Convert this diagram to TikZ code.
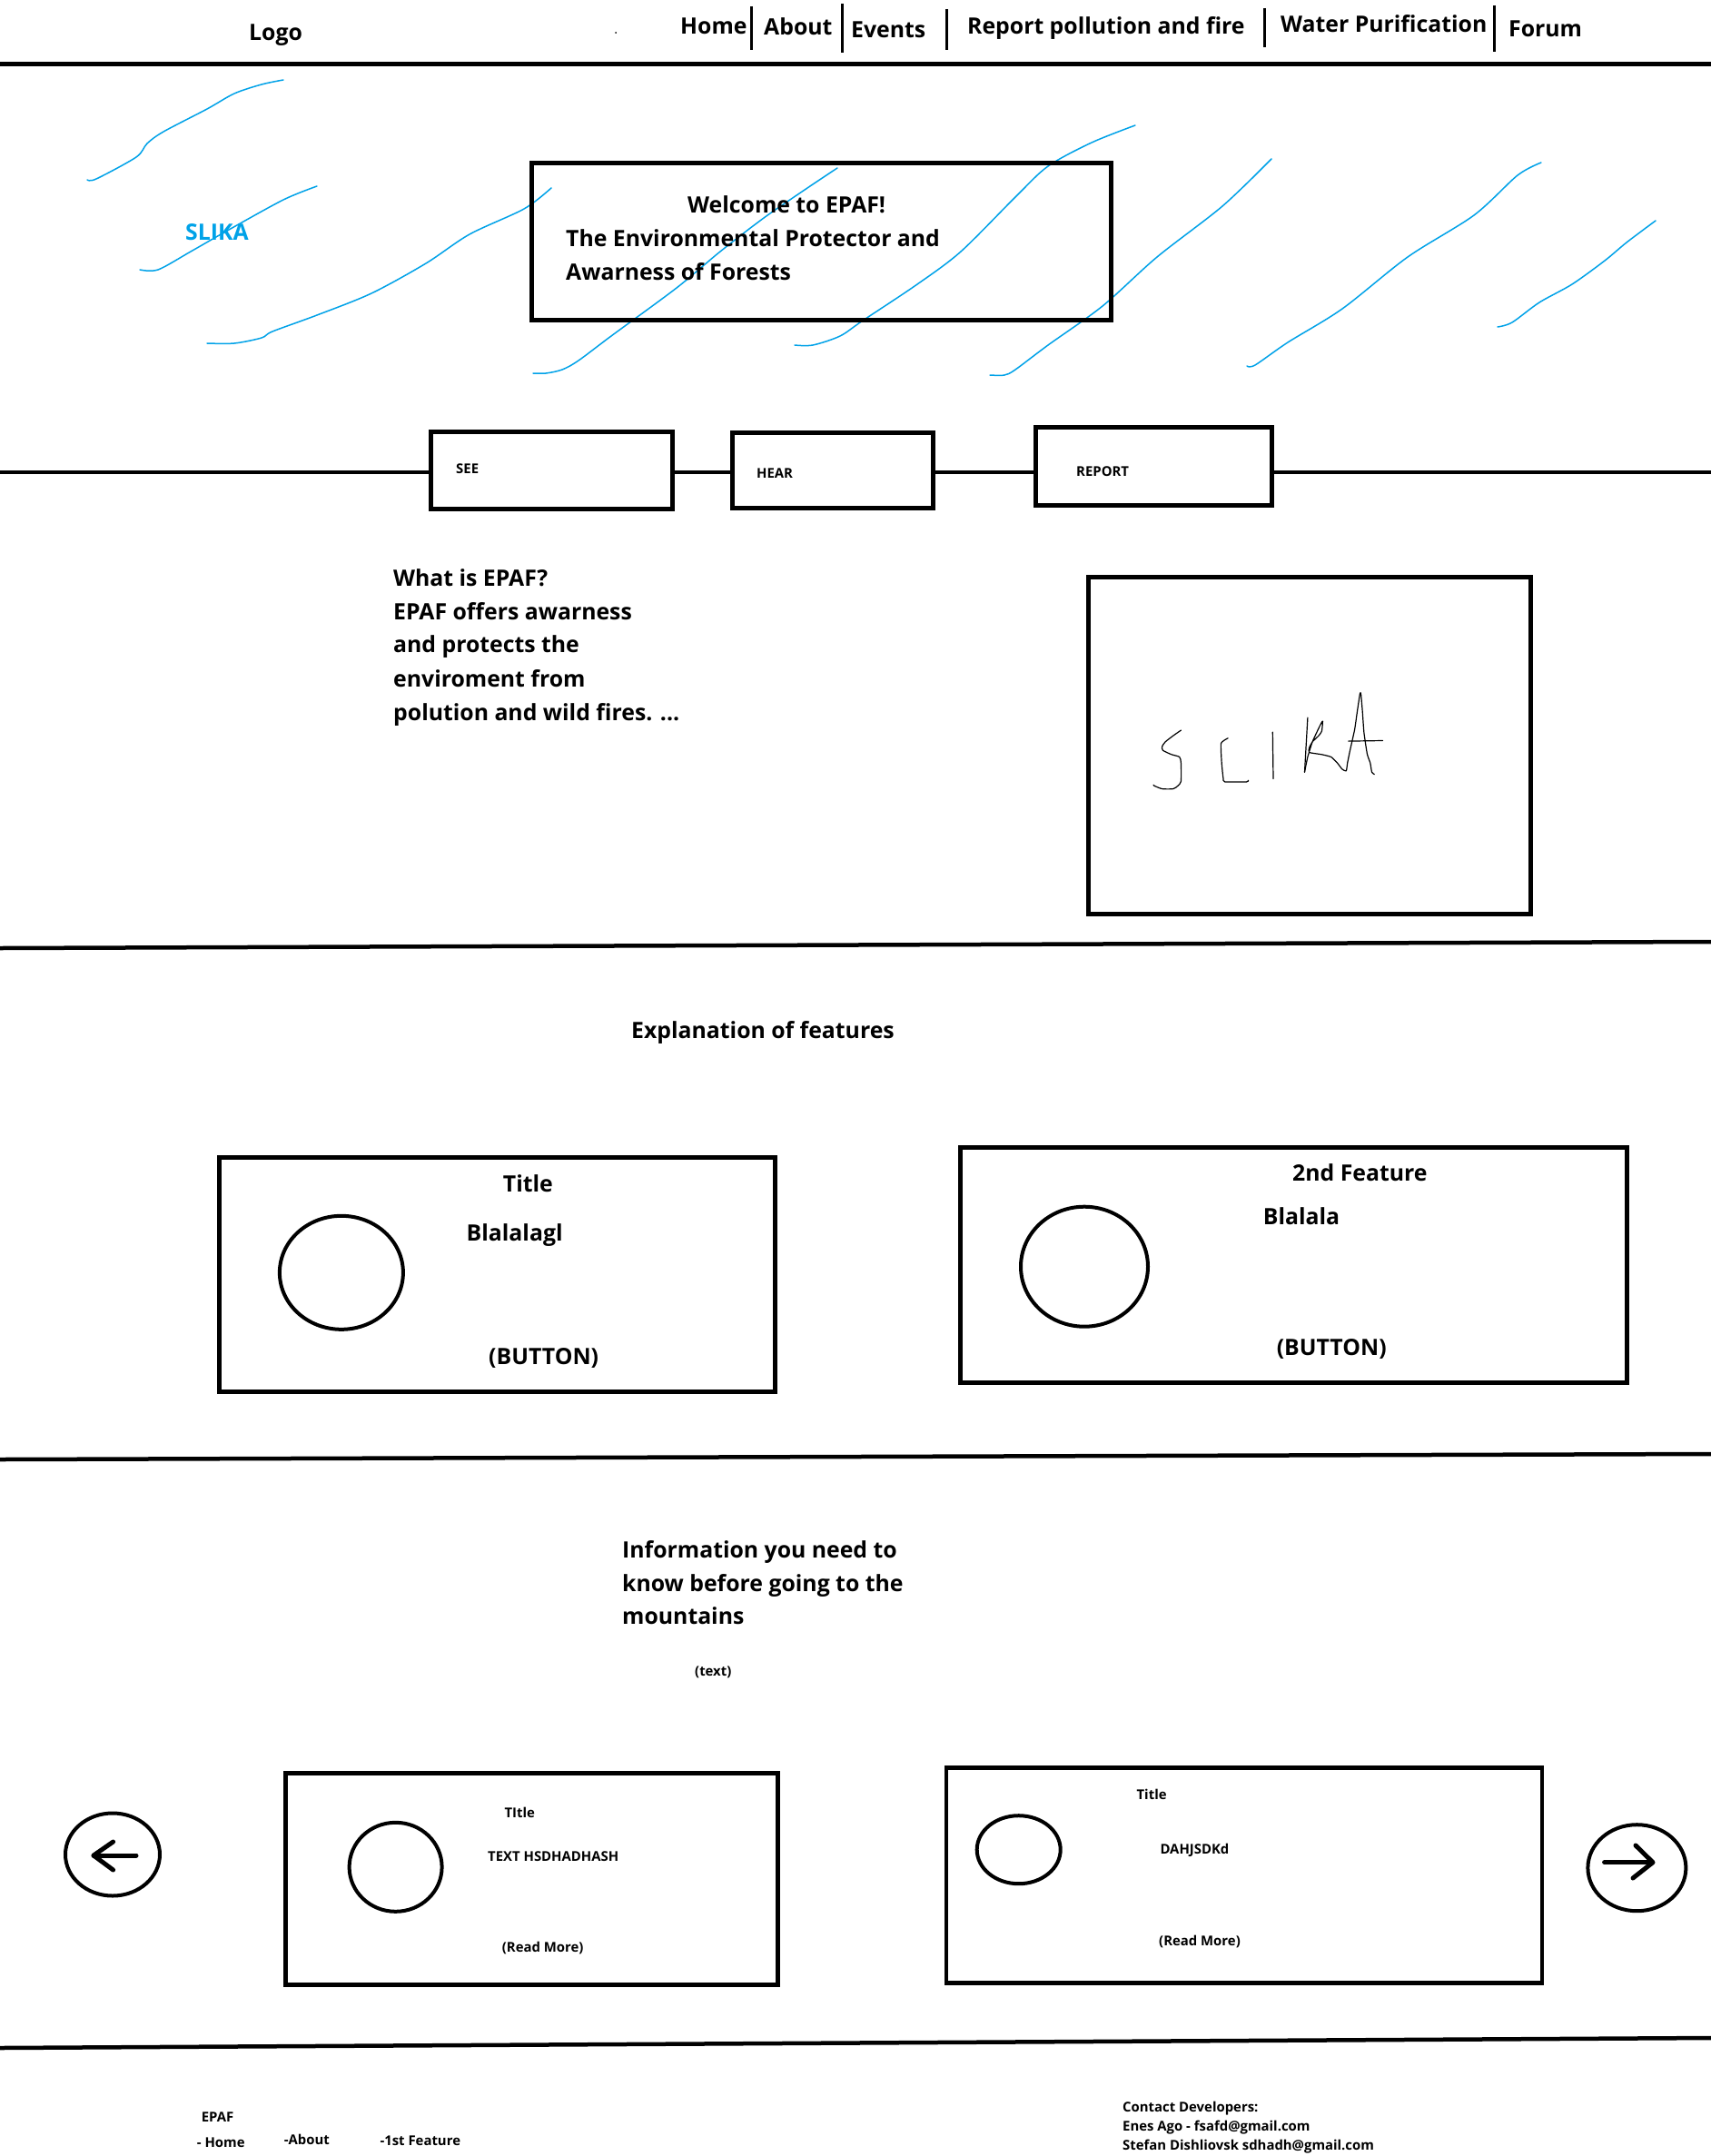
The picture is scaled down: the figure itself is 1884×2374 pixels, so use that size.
\documentclass[tikz,border=0pt]{standalone}
\usepackage{fontspec}
\setmainfont{Open Sans}
\usetikzlibrary{shapes.geometric}
\definecolor{paintblue}{RGB}{0,162,232}
\begin{document}
\begin{tikzpicture}[x=1pt,y=-1pt,
  box/.style={draw, line width=4.5pt, rectangle, inner sep=0pt},
  ring/.style={draw, line width=4pt, ellipse, inner sep=0pt},
  big/.style={font=\bfseries\fontsize{24.8}{29}\selectfont, anchor=base west, inner sep=0pt},
  small/.style={font=\bfseries\fontsize{14.9}{17}\selectfont, anchor=base west, inner sep=0pt},
  rule/.style={line width=4.5pt},
  sepbar/.style={line width=3pt},
  rain/.style={paintblue, line width=1.5pt, line cap=round, line join=round},
  hand/.style={black, line width=1.2pt, line cap=round, line join=round},
  arrowline/.style={line width=5pt, line cap=round, line join=round}]
\useasboundingbox (0,0) rectangle (1884,2374);
\fill[white] (0,0) rectangle (1884,2374);

% ---------------- header ----------------
\node[big] (logo) at (274,44.5) {Logo};
\fill (678,36) circle (1);
\node[big] (home) at (749,37.5) {Home};
\node[big] (about) at (841,38.5) {About};
\node[big] (events) at (937,41.5) {Events};
\node[big] (report) at (1065,37.5) {Report pollution and fire};
\node[big] (water) at (1410,35.5) {Water Purification};
\node[big] (forum) at (1661,40.5) {Forum};
\draw[sepbar] (827,7) -- (827,55);
\draw[sepbar] (927,4) -- (927,58);
\draw[sepbar] (1042,10) -- (1042,55);
\draw[sepbar] (1392,9) -- (1392,52);
\draw[sepbar] (1645,6) -- (1645,57);
\draw[line width=5pt] (0,71) -- (1884,71);

% ---------------- hero ----------------
\draw[rain] plot[smooth] coordinates {(96,198) (106,197) (150,173) (162,158) (180,145) (228,120) (258,103) (288,93) (312,88)};
\draw[rain] plot[smooth] coordinates {(154,297) (174,297) (210,277) (252,253) (312,220) (349,205)};
\draw[rain] plot[smooth] coordinates {(228,378) (258,378) (288,372) (300,365) (349,347) (409,323) (469,290) (517,258) (577,230) (607,207)};
\draw[rain] plot[smooth] coordinates {(587,411) (601,411) (619,407) (637,397) (673,370) (745,317) (793,277) (841,240) (889,207) (922,185)};
\draw[rain] plot[smooth] coordinates {(875,380) (895,380) (925,370) (950,353) (1010,313) (1058,277) (1118,217) (1154,183) (1202,157) (1250,138)};
\draw[rain] plot[smooth] coordinates {(1090,413) (1106,413) (1118,407) (1154,380) (1214,337) (1274,283) (1346,227) (1400,175)};
\draw[rain] plot[smooth] coordinates {(1373,403) (1382,402) (1418,377) (1478,340) (1550,283) (1623,237) (1671,193) (1697,179)};
\draw[rain] plot[smooth] coordinates {(1649,360) (1665,355) (1695,333) (1731,313) (1767,287) (1791,267) (1823,243)};
\node[big, text=paintblue] (slika1) at (204,264) {SLIKA};

\node[box, minimum width=638, minimum height=173] (welcome) at (904.5,266) {};
\node[big] (w1) at (757,234) {Welcome to EPAF!};
\node[big] (w2) at (623,271) {The Environmental Protector and};
\node[big] (w3) at (623,308) {Awarness of Forests};

% ---------------- see / hear / report ----------------
\node[box, minimum width=266, minimum height=85] (see) at (607.5,518) {};
\node[box, minimum width=221, minimum height=83] (hear) at (917,518) {};
\node[box, minimum width=260, minimum height=86] (rep) at (1270.5,513.5) {};
\node[small] (seel) at (502,521) {SEE};
\node[small] (hearl) at (833,526) {HEAR};
\node[small] (repl) at (1185,524) {REPORT};
\coordinate (tlL) at (0,520);
\coordinate (tlR) at (1884,520);
\draw[rule] (tlL) -- (tlL -| see.west);
\draw[rule] (see.east |- tlL) -- (hear.west |- tlL);
\draw[rule] (hear.east |- tlL) -- (rep.west |- tlL);
\draw[rule] (rep.east |- tlL) -- (tlR);

% ---------------- what is EPAF ----------------
\node[big] (e1) at (433,645) {What is EPAF?};
\node[big] (e2) at (433,682) {EPAF offers awarness};
\node[big] (e3) at (433,718) {and protects the};
\node[big] (e4) at (433,756) {enviroment from};
\node[big] (e5) at (433,793) {polution and wild fires. ...};

\node[box, minimum width=487, minimum height=371] (img) at (1442,821) {};
\draw[hand] plot[smooth, tension=0.4] coordinates {(1300.4,804.1) (1291.8,810.1) (1283.2,816.8) (1279.7,821.8) (1280.4,826.2) (1290.0,830.8) (1298.7,833.5) (1300.4,840.2) (1300.4,860.3) (1296.9,865.3) (1291.8,868.6) (1279.7,868.6) (1271.1,865.3) (1270.1,864.3)};
\draw[hand] plot[smooth, tension=0.3] coordinates {(1352.1,812.8) (1344.5,818.5) (1345.2,840.2) (1346.9,856.9) (1348.6,860.9) (1372.7,860.9) (1374.5,859.3)};
\draw[hand] (1401.3,806.1) -- (1402.0,857.6);
\draw[hand] (1439.9,790.1) -- (1436.5,850.2);
\draw[hand] plot[smooth, tension=0.3] coordinates {(1436.5,850.2) (1439.9,833.5) (1445.1,816.8) (1453.7,798.4) (1456.4,794.1) (1455.4,805.1) (1452.0,810.1) (1445.1,816.8) (1441.6,823.5) (1441.6,828.5) (1455.4,830.8) (1465.7,833.5) (1472.6,840.2) (1477.8,846.9) (1482.3,848.9) (1483.7,840.2) (1486.4,826.8) (1491.6,803.4) (1494.0,786.7) (1497.4,764.0) (1498.5,764.0) (1500.2,783.4) (1501.9,806.8) (1505.4,830.2) (1508.8,840.2) (1510.5,850.2) (1513.3,852.6)};
\draw[hand] (1484.7,816.1) -- (1522.6,815.5);

\draw[rule] (0,1044) -- (1884,1037);

% ---------------- features ----------------
\node[big] (expl) at (695,1143) {Explanation of features};

\node[box, minimum width=612, minimum height=258] (f1) at (547.4,1403.4) {};
\node[ring, minimum width=136, minimum height=125] (f1c) at (375.9,1401.3) {};
\node[big] (f1t) at (553.7,1312) {Title};
\node[big] (f1b) at (513.5,1366) {Blalalagl};
\node[big] (f1btn) at (538,1502) {(BUTTON)};

\node[box, minimum width=734, minimum height=259] (f2) at (1424.3,1392.9) {};
\node[ring, minimum width=140, minimum height=132] (f2c) at (1194,1394.7) {};
\node[big] (f2t) at (1423,1300) {2nd Feature};
\node[big] (f2b) at (1390.7,1348) {Blalala};
\node[big] (f2btn) at (1405.6,1492) {(BUTTON)};

\draw[rule] (0,1607) -- (1884,1601);

% ---------------- info ----------------
\node[big] (i1) at (685,1715) {Information you need to};
\node[big] (i2) at (685,1752) {know before going to the};
\node[big] (i3) at (685,1788) {mountains};
\node[small] (itext) at (765,1845) {(text)};

\node[ring, minimum width=104, minimum height=91] (prev) at (124,2042) {};
\draw[arrowline] (103,2043) -- (150,2043);
\draw[arrowline] (124.6,2028) -- (103,2043) -- (124.6,2059);

\node[box, minimum width=542, minimum height=233] (c1) at (585.3,2069.2) {};
\node[ring, minimum width=102, minimum height=98] (c1c) at (435.6,2055.8) {};
\node[small] (c1t) at (555.3,2001) {TItle};
\node[small] (c1x) at (537,2049) {TEXT HSDHADHASH};
\node[small] (c1r) at (552.7,2149) {(Read More)};

\node[box, minimum width=656, minimum height=237] (c2) at (1369.9,2065) {};
\node[ring, minimum width=92, minimum height=75] (c2c) at (1121.7,2036.7) {};
\node[small] (c2t) at (1251.4,1981) {Title};
\node[small] (c2x) at (1277.3,2041.7) {DAHJSDKd};
\node[small] (c2r) at (1276,2142.7) {(Read More)};

\node[ring, minimum width=108, minimum height=95] (next) at (1802.4,2056.7) {};
\draw[arrowline] (1766.6,2050.7) -- (1819,2050.7);
\draw[arrowline] (1801,2032) -- (1820,2050.7) -- (1798,2068);

\draw[rule] (0,2255) -- (1884,2244);

% ---------------- footer ----------------
\node[small] (ft1) at (221.7,2336) {EPAF};
\node[small] (ft2) at (216.7,2364) {- Home};
\node[small] (ft3) at (312.7,2361.7) {-About};
\node[small] (ft4) at (418.3,2362.7) {-1st Feature};
\node[small] (cd1) at (1236,2325) {Contact Developers:};
\node[small] (cd2) at (1236,2346) {Enes Ago - fsafd@gmail.com};
\node[small] (cd3) at (1236,2367) {Stefan Dishliovsk sdhadh@gmail.com};
\end{tikzpicture}
\end{document}
